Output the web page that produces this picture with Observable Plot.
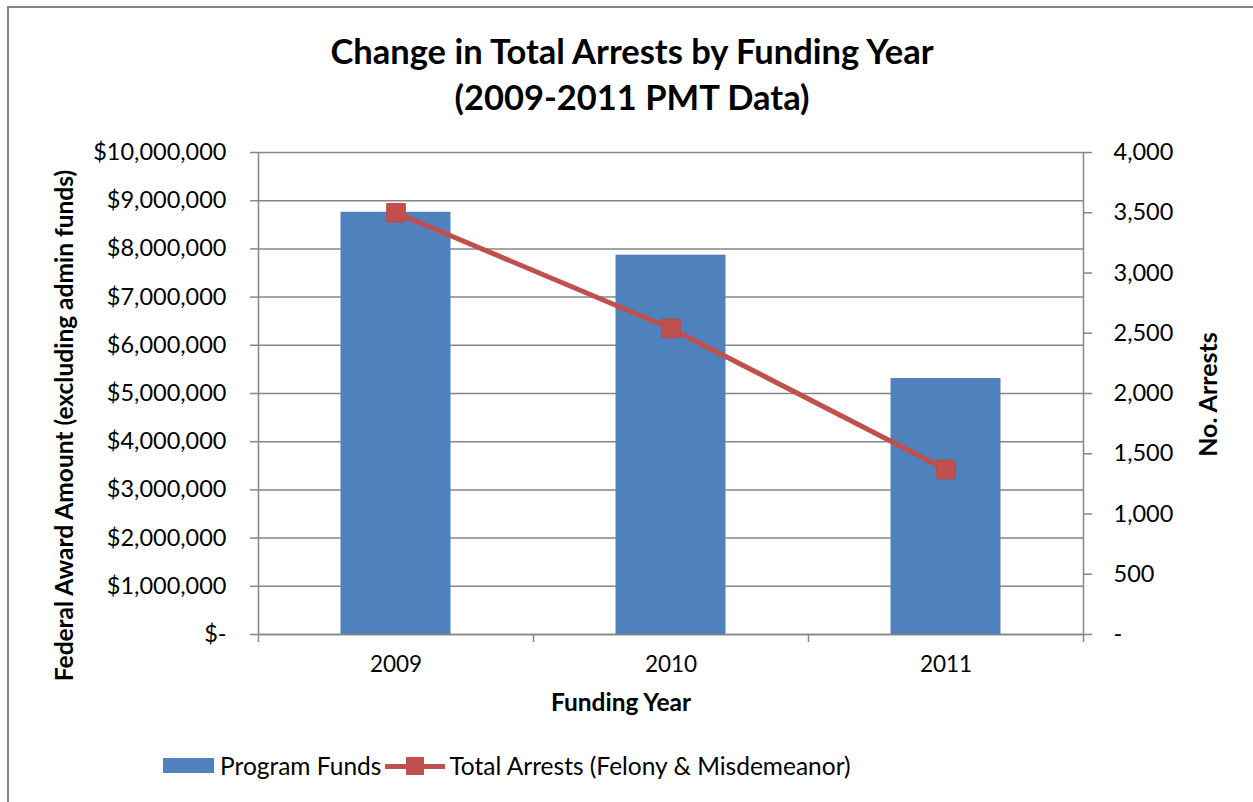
<!DOCTYPE html>
<html><head><meta charset="utf-8">
<script src="https://cdn.jsdelivr.net/npm/d3@7"></script>
<script src="https://cdn.jsdelivr.net/npm/@observablehq/plot@0.6"></script>
<style>
body{margin:0;background:#fff;font-family:Lato,"Open Sans",sans-serif;color:#000;}
#wrap{position:relative;width:1253px;height:802px;overflow:hidden;}
#frame{position:absolute;left:7px;top:6px;width:1300px;height:900px;border:2px solid #868686;box-sizing:border-box;}
#title{position:absolute;top:28px;left:0;width:1264px;text-align:center;font-weight:bold;font-size:34.5px;line-height:46px;}
#chart{position:absolute;left:0;top:130px;}
#legend{position:absolute;top:751px;left:163px;display:flex;align-items:center;font-size:24.5px;white-space:nowrap;}
.sw-bar{display:inline-block;width:51px;height:15px;background:#4F81BD;margin-right:6px;}
.sw-line{position:relative;display:inline-block;width:60px;height:20px;margin:0 4px 0 4px;}
.sw-line:before{content:"";position:absolute;left:0;right:0;top:8px;height:5px;background:#C0504D;}
.sw-line:after{content:"";position:absolute;left:21px;top:1px;width:18px;height:18px;background:#C0504D;}
</style></head>
<body>
<div id="wrap">
<div id="frame"></div>
<div id="title">Change in Total Arrests by Funding Year<br>(2009-2011 PMT Data)</div>
<div id="chart"></div>
<div id="legend"><span class="sw-bar"></span><span>Program Funds</span><span class="sw-line"></span><span>Total Arrests (Felony &amp; Misdemeanor)</span></div>
</div>
<script>
const years = [2009, 2010, 2011];
const programFunds = [8760000, 7870000, 5310000];
const totalArrests = [3500, 2540, 1370];
const fundTicks = [0,1000000,2000000,3000000,4000000,5000000,6000000,7000000,8000000,9000000,10000000];
const arrestTicks = [0,500,1000,1500,2000,2500,3000,3500,4000];
const yAxisTitle = "Federal Award Amount (excluding admin funds)";
const y2AxisTitle = "No. Arrests";
const xAxisTitle = "Funding Year";

const fundMax = 10000000, arrestMax = 4000;
const k = fundMax / arrestMax;
const data = years.map((y, i) => ({year: y, funds: programFunds[i], arrests: totalArrests[i]}));
const bounds = years.map(y => y - 0.5).concat([years[years.length-1] + 0.5]);

const grid = "#868686";
const fmtMoney = d => d === 0 ? "$-" : "$" + d3.format(",")(d);
const fmtArr = d => d === 0 ? "-" : d3.format(",")(d);

const chart = Plot.plot({
  width: 1253, height: 620,
  marginLeft: 258, marginRight: 170, marginTop: 22, marginBottom: 116,
  style: {fontFamily: "Lato, 'Open Sans', sans-serif", fontSize: "23px", color: "#000", background: "transparent"},
  x: {type: "linear", domain: [bounds[0], bounds[bounds.length-1]]},
  y: {domain: [0, fundMax]},
  marks: [
    Plot.ruleY(fundTicks, {stroke: grid, strokeWidth: 1.5}),
    Plot.ruleX([bounds[0], bounds[bounds.length-1]], {stroke: grid, strokeWidth: 1.5}),
    Plot.rectY(data, {x1: d => d.year - 0.2, x2: d => d.year + 0.2, y1: 0, y2: "funds", fill: "#4F81BD"}),
    Plot.ruleY([0], {stroke: grid, strokeWidth: 1.5}),
    Plot.line(data, {x: "year", y: d => d.arrests * k, stroke: "#C0504D", strokeWidth: 5}),
    Plot.dot(data, {x: "year", y: d => d.arrests * k, symbol: "square", r: 10.5, fill: "#C0504D", stroke: "#B84A47", strokeWidth: 1}),
    Plot.axisY({ticks: fundTicks, tickFormat: fmtMoney, tickSize: 8, tickPadding: 24, stroke: grid, strokeWidth: 1.5, label: null, fontSize: 23.5}),
    Plot.axisY({anchor: "right", ticks: arrestTicks.map(v => v * k), tickFormat: d => fmtArr(Math.round(d / k)), tickSize: 8, tickPadding: 22, stroke: grid, strokeWidth: 1.5, label: null, fontSize: 23.5}),
    Plot.axisX({ticks: bounds, tickFormat: () => "", tickSize: 8, stroke: grid, strokeWidth: 1.5, label: null}),
    Plot.axisX({ticks: years, tickFormat: d => String(d), tickSize: 0, tickPadding: 22, label: null, fontSize: 22.5}),
    Plot.text([xAxisTitle], {frameAnchor: "bottom", dx: -50, dy: 76, fontWeight: "bold", fontSize: 24.5}),
    Plot.text([yAxisTitle], {frameAnchor: "left", textAnchor: "middle", rotate: -90, dx: -193, dy: 32, fontWeight: "bold", fontSize: 24.5}),
    Plot.text([y2AxisTitle], {frameAnchor: "right", textAnchor: "middle", rotate: -90, dx: 125, dy: 1, fontWeight: "bold", fontSize: 25})
  ]
});
document.getElementById("chart").appendChild(chart);
</script>
</body></html>
